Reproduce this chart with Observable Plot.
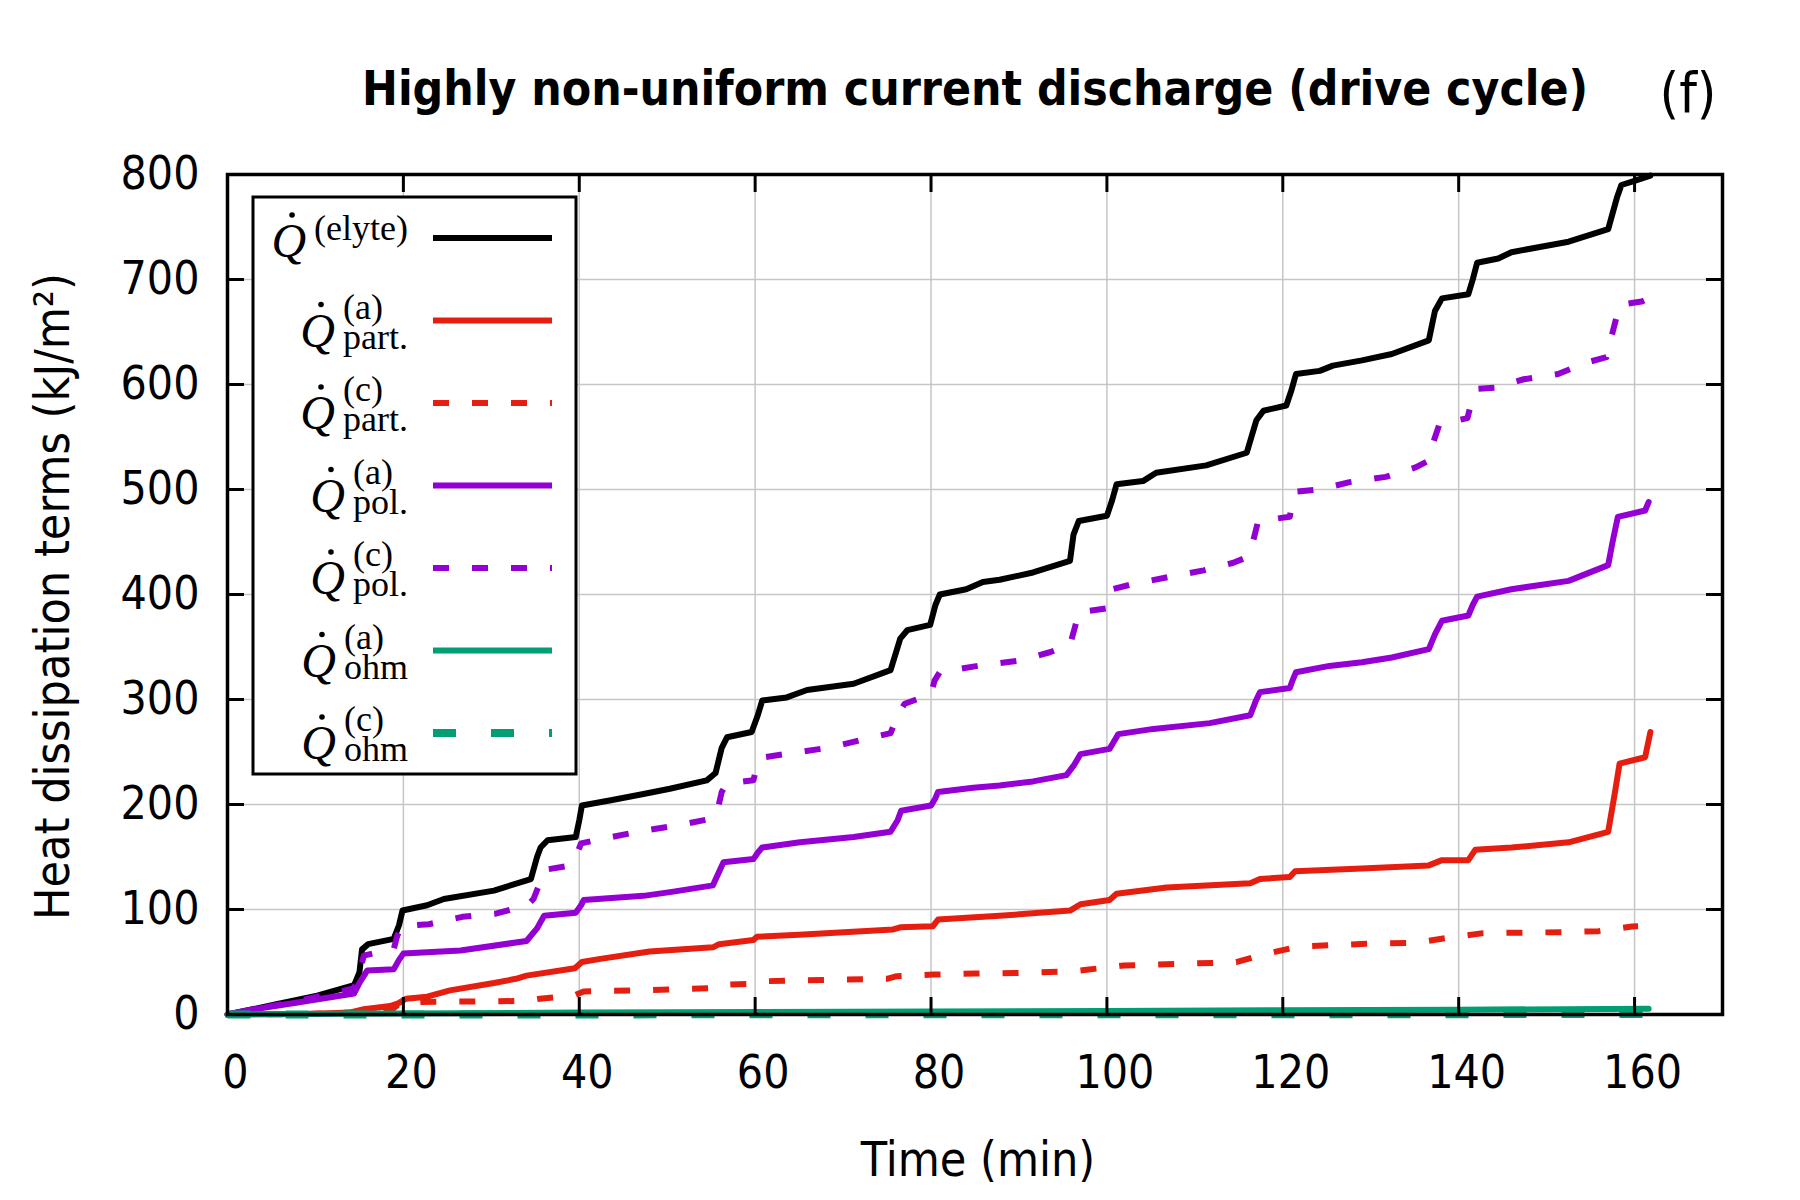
<!DOCTYPE html>
<html>
<head>
<meta charset="utf-8">
<script src="https://cdn.jsdelivr.net/npm/d3@7"></script>
<script src="https://cdn.jsdelivr.net/npm/@observablehq/plot@0.6"></script>
<style>
  html, body { margin: 0; padding: 0; background: #ffffff; }
  #wrap { position: relative; width: 1800px; height: 1200px; overflow: hidden; background: #fff; }
  .ttl { position: absolute; white-space: nowrap; line-height: 1; color: #000;
         font-family: "DejaVu Sans Condensed", "DejaVu Sans", sans-serif; font-stretch: condensed; }
</style>
</head>
<body>
<div id="wrap"></div>
<script>
// ---------------- data ----------------
const titleText = "Highly non-uniform current discharge (drive cycle)";
const panelTag = "(f)";
const xLabel = "Time (min)";
const yLabel = "Heat dissipation terms (kJ/m\u00B2)";
const xTicks = [0, 20, 40, 60, 80, 100, 120, 140, 160];
const yTicks = [0, 100, 200, 300, 400, 500, 600, 700, 800];

// [time (min), value (kJ/m^2)]
const elyte = [[0,0],[2.3,4],[5.7,10],[10.2,18],[14.4,28],[15.0,40],[15.3,62],[16,67],[18.9,72],[19.5,85],[19.9,99],[22.7,104],[24.6,110],[30.3,118],[34.5,129],[35.2,150],[35.6,159],[36.4,166],[39.6,169],[40.0,185],[40.3,199],[43.6,204],[47.3,210],[50.3,215],[54.5,223],[55.5,230],[56.2,254],[56.8,264],[59.6,269],[60.3,285],[60.8,299],[63.6,302],[65.9,309],[71.2,315],[75.4,328],[76.5,358],[77.3,366],[79.9,371],[80.5,390],[81,400],[84,405],[85.9,412],[87.8,414],[91.6,421],[95.8,432],[96.2,457],[96.8,470],[100,475],[100.6,490],[101.1,505],[104.1,508],[105.6,516],[111.3,523],[115.9,535],[117,566],[117.8,575],[120.4,580],[121,595],[121.5,610],[124.2,613],[125.7,618],[129,623],[132.4,629],[136.6,642],[137.3,670],[138.1,682],[141.1,686],[141.6,700],[142.1,716],[144.5,720],[146,726],[152.5,736],[157,748],[158,778],[158.5,790],[160,794],[161.8,799]];
const partA = [[0,0],[9,0.5],[14,2],[15.5,5],[18.5,8],[19.5,11],[20.3,15],[22.7,17],[25.3,23],[30.3,30],[32.8,34],[34,37],[39.5,44],[40.3,50],[42.4,53],[48,60],[55.2,64],[55.9,67],[59.8,71],[60.2,74],[65,76],[75.7,81],[76.5,83],[80.2,84],[80.8,90.5],[87.8,94],[95.8,99],[97,105],[100.3,109],[101.1,115],[106.8,121],[116.3,125],[117.4,129],[120.8,131],[121.4,136.5],[129,139],[136.6,142],[138.1,147],[141.1,147],[141.9,157],[146,159],[152.5,164],[157,174],[157.8,213],[158.3,239],[161.2,245],[161.8,269]];
const partC = [[0,0],[9,0.5],[14,2],[18.9,6],[19.6,11],[22,12],[30,12.5],[34,13],[35.5,15],[39.4,18],[40.5,22],[47,23],[54.9,25],[55.6,28],[59,29],[60.2,31.5],[65,32.5],[75,34],[76.1,36.5],[80.3,38],[85,39],[89.4,39.5],[96,41],[97.7,42.6],[101.9,46.7],[114.7,49.8],[118.1,57.8],[121.9,64.8],[129.5,67.3],[135,68.3],[138.8,73],[142.8,77.5],[151.7,78.4],[155.9,79.4],[159.7,83.8],[160.4,84]];
const polA = [[0,0],[3,5],[7.6,11],[14.4,20],[15,30],[15.9,42],[18.9,43],[19.5,52],[20,58],[26.5,61],[34,70],[35.2,82],[36,94],[39.6,97],[40.2,104],[40.5,109],[47.3,113],[50.7,117],[55.2,123],[55.9,136],[56.4,145],[59.8,148],[60.3,154],[60.8,159],[65.1,164],[71.2,169],[75.4,174],[76.2,185],[76.6,194],[80,199],[80.5,206],[80.8,212],[84.8,216],[87.8,218],[91.6,222],[95.4,228],[96.3,238],[97,248],[100.3,253],[100.8,260],[101.3,267],[105.3,272],[111.7,277.5],[116.3,285],[116.9,298],[117.4,307],[120.8,311],[121.1,318],[121.5,326],[125.3,332],[129,335.5],[132.4,340],[136.6,348],[137.3,362],[138.1,375],[141.1,380],[141.6,390],[142.1,398],[146,405],[152.5,413],[157,428],[157.5,450],[158.1,474],[161.2,480],[161.6,488]];
const polC = [[0,0],[3,5],[7,11],[11.4,19],[14.4,25],[15.0,40],[15.5,56],[17,59],[18.9,62],[19.3,75],[19.8,84],[22.9,86],[26.7,93],[30.5,96],[34.1,104],[34.8,110],[35.5,125],[36.2,138],[38.4,141],[39.6,150],[40.2,163],[42.4,167],[47.3,175],[51.1,180],[54.7,186],[55.6,190],[56.2,212],[56.8,220],[59.8,223],[60.3,240],[61,245],[65,250],[68.7,254.5],[72.3,262],[75.4,268],[76.2,285],[77,296],[80,305],[80.4,318],[81,326],[86,333],[90.1,337],[93.5,345],[95.8,352],[96.4,370],[96.8,383],[100.1,387],[100.6,405],[103,410],[107.2,417],[111,423],[114.3,430],[115.8,435],[116.6,450],[117.2,470],[120.8,474],[121.1,490],[121.6,498],[124.2,500],[127.6,507],[131.7,512],[135.1,521],[136.5,527],[137.0,542],[137.8,562],[141.0,568],[141.5,585],[142.2,596],[144.1,597],[147.4,605],[151.3,610],[154.6,621],[156.8,626],[157.2,640],[158.0,666],[158.4,676],[160.8,679],[161.6,682]];
const ohmA = [[0,0],[20,1],[40,1.8],[60,2.3],[80,2.8],[100,3.4],[120,4],[140,4.6],[161.6,5.4]];
const ohmC = [[0,0],[40,0.1],[80,0.2],[120,0.3],[161.6,0.4]];

const seriesKeys = ["elyte", "partA", "partC", "polA", "polC", "ohmA", "ohmC"];
const seriesValues = { elyte, partA, partC, polA, polC, ohmA, ohmC };
const legendSup = ["(elyte)", "(a)", "(c)", "(a)", "(c)", "(a)", "(c)"];
const legendSub = ["", "part.", "part.", "pol.", "pol.", "ohm", "ohm"];

// ---------------- styles ----------------
const seriesStyle = {
  elyte: { color: "#000000", width: 6, dash: null },
  partA: { color: "#e51e10", width: 6, dash: null },
  partC: { color: "#e51e10", width: 6, dash: "16,23" },
  polA:  { color: "#9400d3", width: 6, dash: null },
  polC:  { color: "#9400d3", width: 6, dash: "16,23" },
  ohmA:  { color: "#009e73", width: 6, dash: null },
  ohmC:  { color: "#009e73", width: 8, dash: "23,35" }
};
const sansFont = '"DejaVu Sans Condensed", "DejaVu Sans", sans-serif';
const serifFont = '"Liberation Serif", "Times New Roman", "DejaVu Serif", serif';
const gridColor = "#c6c6c6";

const mL = 227, mR = 78, mT = 174, mB = 186;

const rows = seriesKeys.flatMap(k => seriesValues[k].map(([t, v]) => ({ key: k, t, v })));

const lineMarks = seriesKeys.map(k => {
  const s = seriesStyle[k];
  return Plot.line(rows.filter(r => r.key === k), {
    x: "t", y: "v",
    stroke: s.color, strokeWidth: s.width,
    strokeDasharray: s.dash || undefined,
    strokeLinecap: s.dash ? "butt" : "round",
    strokeLinejoin: "round"
  });
});

const chart = Plot.plot({
  width: 1800, height: 1200,
  marginLeft: mL, marginRight: mR, marginTop: mT, marginBottom: mB,
  style: { fontFamily: sansFont, fontSize: "46px", fontStretch: "condensed", background: "white", color: "black", overflow: "visible" },
  x: { domain: [0, 170] },
  y: { domain: [0, 800] },
  marks: [
    Plot.gridX(xTicks, { stroke: gridColor, strokeOpacity: 1, strokeWidth: 1.5 }),
    Plot.gridY(yTicks, { stroke: gridColor, strokeOpacity: 1, strokeWidth: 1.5 }),
    ...lineMarks,
    Plot.frame({ stroke: "black", strokeWidth: 3.5 }),
    Plot.axisX(xTicks, { anchor: "bottom", tickSize: 0, tickPadding: 41, dx: 8, label: null, fontSize: 46 }),
    Plot.axisX(xTicks, { anchor: "bottom", tickSize: -17, strokeWidth: 3, fill: "none", label: null }),
    Plot.axisX(xTicks, { anchor: "top", tickSize: -17, strokeWidth: 3, fill: "none", label: null }),
    Plot.axisY(yTicks, { anchor: "left", tickSize: 0, tickPadding: 28, label: null, fontSize: 46 }),
    Plot.axisY(yTicks, { anchor: "left", tickSize: -17, strokeWidth: 3, fill: "none", label: null }),
    Plot.axisY(yTicks, { anchor: "right", tickSize: -17, strokeWidth: 3, fill: "none", label: null }),
    Plot.text([yLabel], { text: d => d, frameAnchor: "left", textAnchor: "middle", dx: -159, dy: 2, rotate: -90, lineAnchor: "bottom", fontSize: 48, ariaLabel: "y-label" }),
    Plot.text([xLabel], { text: d => d, frameAnchor: "bottom", textAnchor: "middle", dx: 3, dy: 161, lineAnchor: "bottom", fontSize: 48, ariaLabel: "x-label" })
  ]
});

const wrap = document.getElementById("wrap");
wrap.appendChild(chart);
const svg = d3.select(chart);

// ---- horizontal fitting of sans texts (reference face is condensed) ----
function fitText(node, target) {
  const len = node.getComputedTextLength();
  if (len > 0 && Math.abs(target / len - 1) > 0.02) {
    node.setAttribute("textLength", target);
    node.setAttribute("lengthAdjust", "spacingAndGlyphs");
  }
}
const tickNodes = svg.selectAll('g[aria-label="x-axis tick label"] text, g[aria-label="y-axis tick label"] text').nodes();
const ref800 = tickNodes.find(n => n.textContent === "800");
if (ref800) {
  const k = 79 / ref800.getComputedTextLength();
  if (Math.abs(k - 1) > 0.03) tickNodes.forEach(n => fitText(n, n.getComputedTextLength() * k));
}
svg.selectAll('g[aria-label="x-label"] text').each(function () { fitText(this, 236); });
svg.selectAll('g[aria-label="y-label"] text').each(function () { fitText(this, 646); });

// ---------------- legend ----------------
const lg = svg.append("g").attr("aria-label", "legend").attr("text-anchor", "start");
lg.append("rect").attr("x", 253).attr("y", 197).attr("width", 323).attr("height", 577)
  .attr("fill", "white").attr("stroke", "black").attr("stroke-width", 3);
const rowY0 = 238, rowStep = 82.5, labelRight = 408, sampleX1 = 433, sampleX2 = 552;
seriesKeys.forEach((k, i) => {
  const s = seriesStyle[k];
  const y = rowY0 + i * rowStep;
  lg.append("line").attr("x1", sampleX1).attr("x2", sampleX2).attr("y1", y).attr("y2", y)
    .attr("stroke", s.color).attr("stroke-width", s.width)
    .attr("stroke-dasharray", s.dash).attr("stroke-linecap", "butt");
  const hasSub = legendSub[i] !== "";
  const supY = hasSub ? y - 2 : y + 2;
  const subY = y + 28;
  const qY = hasSub ? y + 26 : y + 19;
  const sup = lg.append("text").attr("y", supY).attr("text-anchor", "start")
    .attr("font-family", serifFont).attr("font-size", 36)
    .attr("font-stretch", "normal").attr("fill", "black").text(legendSup[i]);
  let w = sup.node().getComputedTextLength();
  let sub = null;
  if (hasSub) {
    sub = lg.append("text").attr("y", subY).attr("text-anchor", "start")
      .attr("font-family", serifFont).attr("font-size", 36)
      .attr("font-stretch", "normal").attr("fill", "black").text(legendSub[i]);
    w = Math.max(w, sub.node().getComputedTextLength());
  }
  const xs = labelRight - w;
  sup.attr("x", xs);
  if (sub) sub.attr("x", xs);
  const qEnd = xs - 8;
  lg.append("text").attr("x", qEnd).attr("y", qY).attr("text-anchor", "end")
    .attr("font-family", serifFont).attr("font-style", "italic").attr("font-size", 48)
    .attr("font-stretch", "normal").attr("fill", "black").text("Q");
  lg.append("circle").attr("cx", qEnd - 14).attr("cy", qY - 42).attr("r", 2.8).attr("fill", "black");
});

// ---------------- title (HTML, above the frame) ----------------
const title = document.createElement("div");
title.className = "ttl";
title.style.fontWeight = "bold";
title.style.fontSize = "48px";
title.textContent = titleText;
wrap.appendChild(title);
const tw = title.getBoundingClientRect().width;
const tScale = 1226 / tw;
title.style.left = (975 - tw / 2) + "px";
title.style.top = (105 - 0.846 * 48) + "px";
title.style.transformOrigin = "50% 50%";
title.style.transform = `scaleX(${tScale})`;

const tag = document.createElement("div");
tag.className = "ttl";
tag.style.fontSize = "56px";
tag.textContent = panelTag;
wrap.appendChild(tag);
const gw = tag.getBoundingClientRect().width;
tag.style.left = (1688 - gw / 2) + "px";
tag.style.top = (112 - 0.846 * 56) + "px";
</script>
</body>
</html>
